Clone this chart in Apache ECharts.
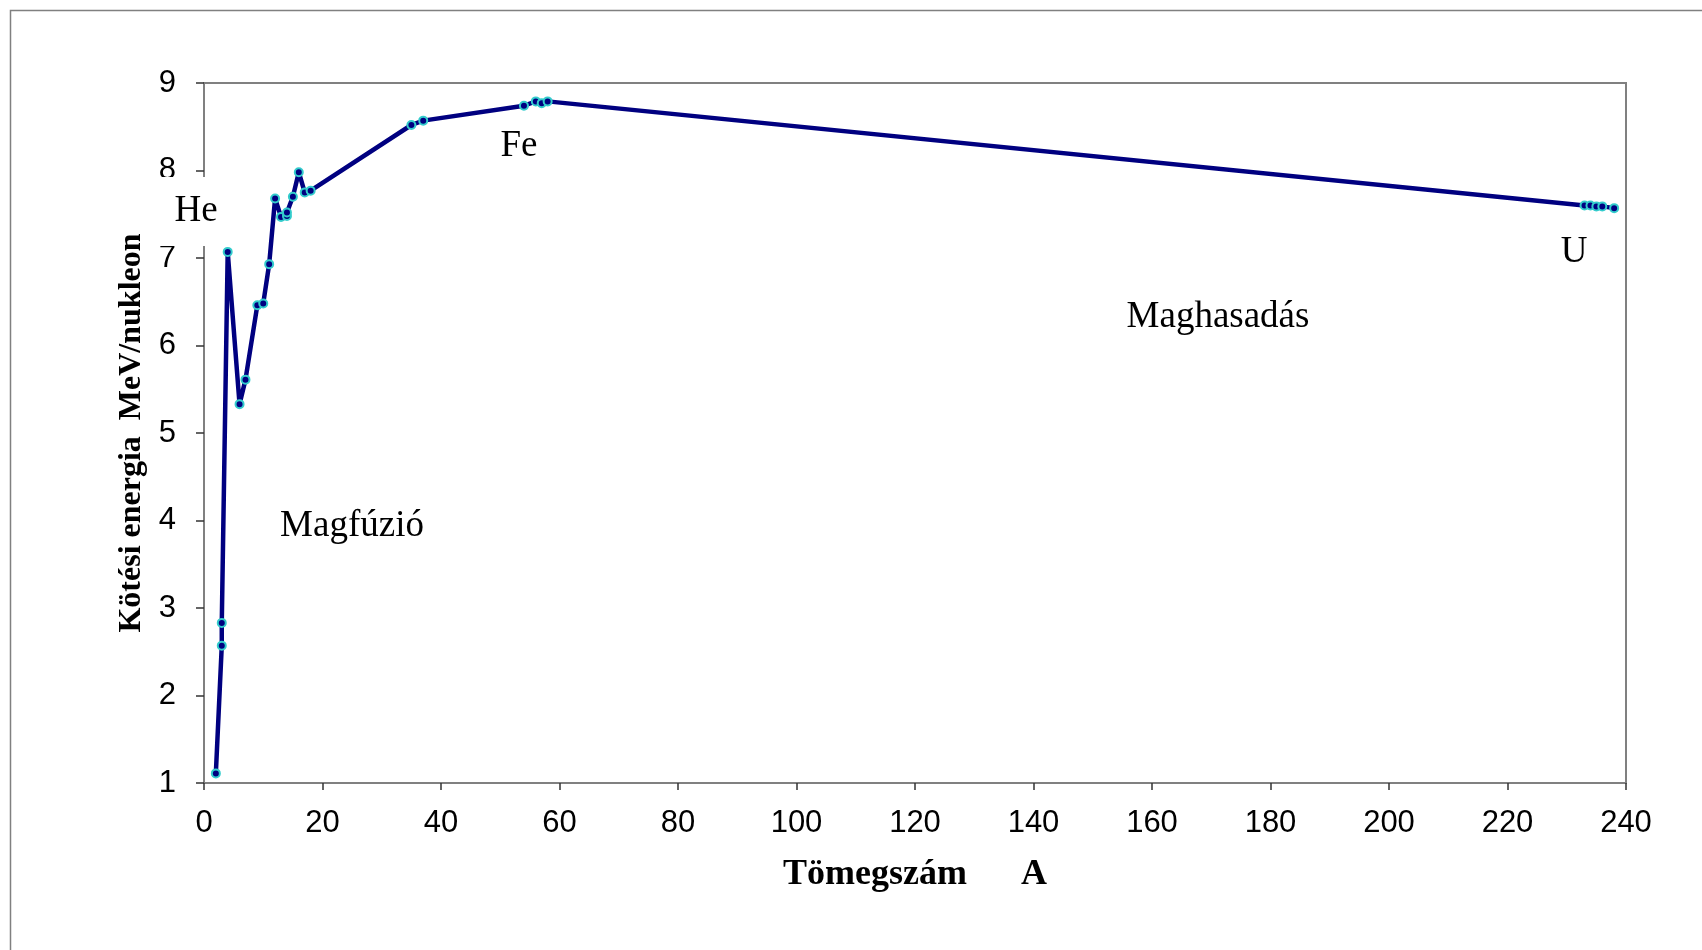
<!DOCTYPE html>
<html><head><meta charset="utf-8">
<script src="https://cdn.jsdelivr.net/npm/echarts@6/dist/echarts.min.js"></script>
<style>html,body{margin:0;padding:0;background:#fff}#c{width:1702px;height:950px}</style>
</head><body><div id="c"></div>
<script>
// Mass number A
const massNumbers = [2, 3, 3, 4, 6, 7, 9, 10, 11, 12, 13, 14, 14, 15, 16, 17, 18, 35, 37, 54, 56, 57, 58, 233, 234, 235, 236, 238];
// Binding energy per nucleon (MeV)
const bindingEnergy = [1.11, 2.57, 2.83, 7.07, 5.33, 5.61, 6.46, 6.48, 6.93, 7.68, 7.47, 7.48, 7.52, 7.70, 7.98, 7.75, 7.77, 8.52, 8.57, 8.74, 8.79, 8.77, 8.79, 7.60, 7.60, 7.59, 7.59, 7.57];
const xTicks = [0, 20, 40, 60, 80, 100, 120, 140, 160, 180, 200, 220, 240];
const yTicks = [1, 2, 3, 4, 5, 6, 7, 8, 9];
const annotations = [
  {text: 'He', x: 196, y: 211},
  {text: 'Fe', x: 519, y: 146},
  {text: 'U', x: 1574, y: 252},
  {text: 'Maghasadás', x: 1218, y: 317},
  {text: 'Magfúzió', x: 352, y: 526}
];

const chart = echarts.init(document.getElementById('c'));
const serif = '"Liberation Serif","Times New Roman",serif';
const sans = '"Liberation Sans",Arial,sans-serif';
const graphics = [
  {type: 'rect', left: 8, top: 8, shape: {width: 1760, height: 1000}, style: {fill: 'none', stroke: '#808080', lineWidth: 1.5}, silent: true, z: 0},
  {type: 'rect', left: 150, top: 177, shape: {width: 72, height: 69}, style: {fill: '#fff'}, z: 50}
];
annotations.forEach(a => graphics.push({
  type: 'text', x: a.x, y: a.y, z: 60,
  style: {text: a.text, font: '37px ' + serif, fill: '#000', textAlign: 'center', textVerticalAlign: 'middle'}
}));

chart.setOption({
  animation: false,
  backgroundColor: '#fff',
  grid: {left: 204, right: 76, top: 83, bottom: 167, show: true, borderColor: '#808080', borderWidth: 2, backgroundColor: 'transparent'},
  xAxis: {
    type: 'value', min: xTicks[0], max: xTicks[xTicks.length - 1], interval: 20,
    name: 'Tömegszám      A', nameLocation: 'middle', nameGap: 74,
    nameTextStyle: {fontFamily: serif, fontWeight: 'bold', fontSize: 36, color: '#000'},
    axisLine: {show: true, lineStyle: {color: '#808080', width: 2}},
    axisTick: {show: true, inside: false, length: 7, lineStyle: {color: '#333', width: 1.5}},
    axisLabel: {fontFamily: sans, fontSize: 31, color: '#000', margin: 25},
    splitLine: {show: false}
  },
  yAxis: {
    type: 'value', min: yTicks[0], max: yTicks[yTicks.length - 1], interval: 1,
    name: 'Kötési energia  MeV/nukleon', nameLocation: 'middle', nameGap: 55,
    nameTextStyle: {fontFamily: serif, fontWeight: 'bold', fontSize: 32, color: '#000'},
    axisLine: {show: true, lineStyle: {color: '#808080', width: 2}},
    axisTick: {show: true, inside: false, length: 8, lineStyle: {color: '#333', width: 1.5}},
    axisLabel: {fontFamily: sans, fontSize: 31, color: '#000', margin: 28},
    splitLine: {show: false}
  },
  series: [{
    type: 'line',
    data: massNumbers.map((a, i) => [a, bindingEnergy[i]]),
    smooth: false,
    symbol: 'circle', symbolSize: 8,
    lineStyle: {color: '#000080', width: 4.5},
    itemStyle: {color: '#000080', borderColor: '#33CCCC', borderWidth: 2},
    z: 5
  }],
  graphic: graphics
});
</script></body></html>
